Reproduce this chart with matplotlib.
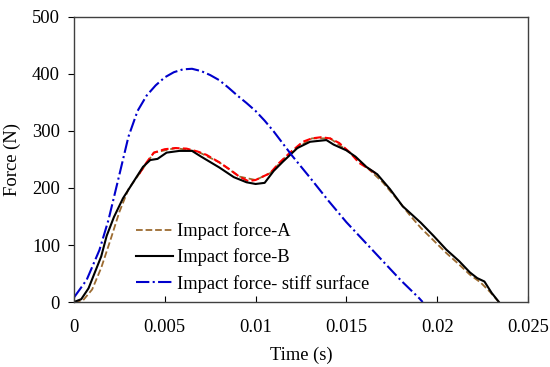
import matplotlib
matplotlib.use('Agg')
import matplotlib.pyplot as plt

# stiff surface
t_stiff = [0, 0.0007, 0.0014, 0.0019, 0.0024, 0.0030, 0.0035, 0.0040, 0.0045, 0.0050,
           0.0055, 0.0060, 0.0065, 0.0070, 0.0075, 0.0080, 0.0085, 0.0090, 0.0095, 0.0100,
           0.0105, 0.0110, 0.0115, 0.0120, 0.0130, 0.0140, 0.0150, 0.0160, 0.0170, 0.0180,
           0.0190, 0.0192]
f_stiff = [8, 39, 91, 144, 210, 290, 335, 362, 380, 394,
           403, 408, 409, 405, 398, 389, 376, 362, 349, 335,
           318, 299, 278, 257, 218, 178, 140, 106, 72, 38,
           7, 0]

# impact force B
t_b = [0, 0.0004, 0.0008, 0.0011, 0.0015, 0.0018, 0.0022, 0.0027, 0.0033, 0.0038, 0.0042,
       0.0046, 0.0051, 0.0058, 0.0065, 0.0070, 0.0080, 0.0088, 0.0095, 0.0100, 0.0105, 0.0110,
       0.0115, 0.0123, 0.0130, 0.0139, 0.0143, 0.0150, 0.0155, 0.0161, 0.0167, 0.0174, 0.0181,
       0.0191, 0.0198, 0.0205, 0.0212, 0.0218, 0.0222, 0.0226, 0.0230, 0.0234]
f_b = [0, 5, 24, 48, 80, 116, 149, 182, 212, 237, 249,
       251, 262, 265, 265, 255, 236, 219, 210, 207, 209, 230,
       246, 270, 281, 284, 276, 266, 255, 237, 224, 198, 168,
       139, 116, 92, 72, 52, 42, 36, 16, 0]

# impact force A
t_a = [0, 0.0005, 0.0010, 0.0015, 0.0020, 0.0025, 0.0030, 0.0036, 0.0044, 0.0056, 0.0068,
       0.0080, 0.0091, 0.0100, 0.0108, 0.0119, 0.0131, 0.0141, 0.0152, 0.0162, 0.0170, 0.0178,
       0.0185, 0.0191, 0.0198, 0.0205, 0.0212, 0.0218, 0.0224, 0.0229, 0.0234]
f_a = [0, 3, 22, 60, 108, 158, 198, 225, 262, 270, 264,
       245, 220, 214, 226, 262, 287, 287, 262, 234, 210, 180,
       152, 130, 108, 86, 66, 48, 34, 18, 0]

# red dashed segment (no legend entry)
t_r = [0.0036, 0.0040, 0.0044, 0.0050, 0.0056, 0.0062, 0.0068, 0.0073, 0.0080, 0.0086,
       0.0091, 0.0096, 0.0100, 0.0104, 0.0108, 0.0113, 0.0119, 0.0126, 0.0131, 0.0136,
       0.0141, 0.0146, 0.0152, 0.0157, 0.0162, 0.0167]
f_r = [225, 245, 262, 268, 270, 269, 264, 258, 245, 232,
       220, 212, 214, 220, 226, 244, 262, 281, 287, 289,
       287, 279, 262, 244, 234, 224]

plt.rcParams['font.family'] = ['Liberation Serif', 'DejaVu Serif']
plt.rcParams['font.size'] = 13.3

fig = plt.figure(figsize=(5.5, 3.67), dpi=100)
ax = fig.add_axes([0.1345, 0.177, 0.8255, 0.777])

ax.plot(t_a, f_a, '--', color='#9C6B30', lw=1.3, label='Impact force-A')
ax.plot(t_r, f_r, '--', color='#FF0000', lw=1.5)
ax.plot(t_b, f_b, '-', color='black', lw=1.5, label='Impact force-B')
ax.plot(t_stiff, f_stiff, '-.', color='#0000CC', lw=1.5, label='Impact force- stiff surface')

ax.set_xlim(0, 0.025)
ax.set_ylim(0, 500)
ax.set_xticks([0, 0.005, 0.01, 0.015, 0.02, 0.025])
ax.set_xticklabels(['0', '0.005', '0.01', '0.015', '0.02', '0.025'])
ax.set_yticks([0, 100, 200, 300, 400, 500])
ax.tick_params(axis='x', direction='in', length=4, pad=12)
ax.tick_params(axis='y', direction='out', length=4, pad=6)
for s in ax.spines.values():
    s.set_color('#404040')
    s.set_linewidth(1.0)

ax.set_xlabel('Time (s)', labelpad=8)
ax.set_ylabel('Force (N)', labelpad=8)

ax.legend(loc='lower left', bbox_to_anchor=(0.1, -0.025), frameon=False,
          handlelength=2.0, handletextpad=0.2, labelspacing=0.45)

fig.savefig('out.png', dpi=100)
plt.close(fig)
